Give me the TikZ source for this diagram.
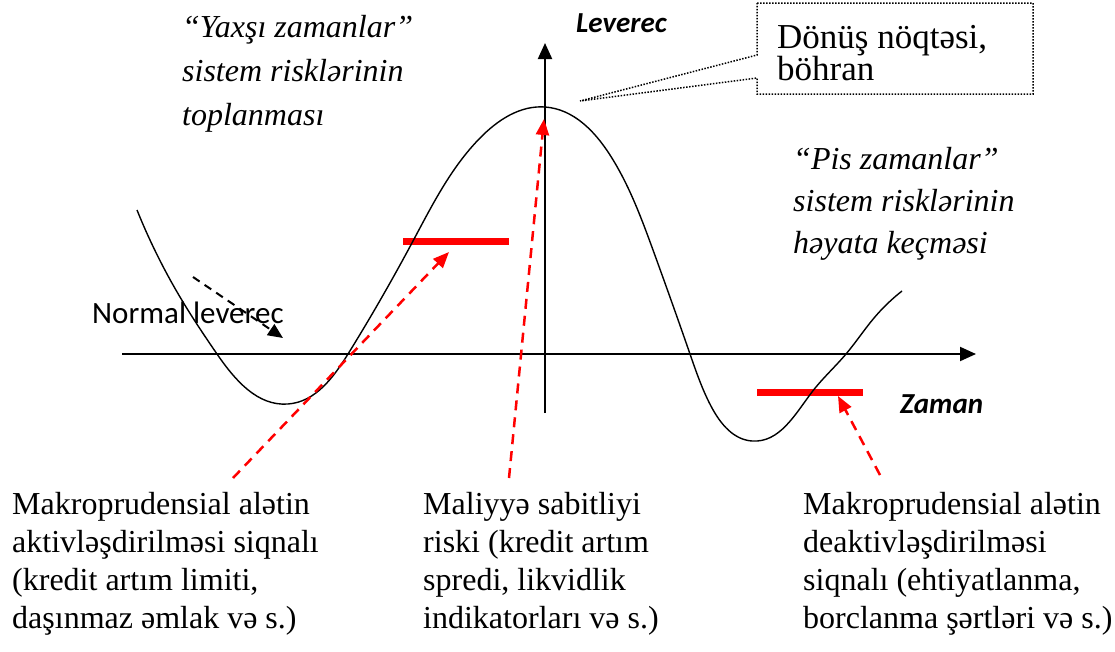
\documentclass[tikz,border=0pt]{standalone}
\usepackage{fontspec}
\setmainfont{Liberation Serif}
\newfontfamily\calibri{Carlito}
\usetikzlibrary{arrows.meta,hobby}
\tikzset{
  axisline/.style={line width=2pt,-{Triangle[length=16pt,width=14pt]}},
  curveline/.style={line width=1.4pt},
  redbar/.style={red,line width=7pt},
  redarrow/.style={red,line width=2.5pt,dash pattern=on 10pt off 7pt,-{Triangle[length=16pt,width=13pt]}},
  blackarrow/.style={black,line width=2pt,dash pattern=on 8pt off 6pt,-{Triangle[length=15pt,width=13pt]}},
  calloutline/.style={line width=1.5pt,dash pattern=on 1.5pt off 1.5pt},
  bodytext/.style={anchor=base west,align=left,inner sep=0pt,font=\fontsize{32}{38}\selectfont},
  italictext/.style={anchor=base west,align=left,inner sep=0pt,font=\fontsize{32}{44}\selectfont\itshape},
  sanslabel/.style={anchor=base west,inner sep=0pt,font=\calibri\bfseries\itshape\fontsize{29}{34}\selectfont},
}
\begin{document}
\begin{tikzpicture}[x=1pt,y=-1pt]
\useasboundingbox (0,0) rectangle (1115,651);
% axes
\coordinate (xo) at (122,354);
\coordinate (xe) at (976,354);
\coordinate (yo) at (545,413);
\coordinate (ye) at (545,43);
\draw[axisline] (xo) -- (xe);
\draw[axisline] (yo) -- (ye);
% red bars
\coordinate (b1l) at (403,241);
\coordinate (b1r) at (509,241);
\coordinate (b2l) at (757,392);
\coordinate (b2r) at (863,392);
\draw[redbar] (b1l) -- (b1r);
\draw[redbar] (b2l) -- (b2r);
% curve
\draw[curveline,use Hobby shortcut] (137,210) .. (180,297) .. (217,354) .. (288,404)
 .. (348,354) .. (413,241) .. (480,138) .. (545,107) .. (610,155) .. (653,250)
 .. (690,354) .. (712,408) .. (752,441) .. (812,392) .. (846,354) .. (874,318) .. (902,291);
% callout
\draw[calloutline] (757,3) -- (1033,3) -- (1033,94) -- (757,94) -- (757,78)
  -- (580,101) -- (757,55) -- cycle;
\node[anchor=base west,align=left,inner sep=0pt,font=\fontsize{35}{32}\selectfont]
  (turn) at (777,80) {Dönüş nöqtəsi,\\böhran};
% labels
\node[sanslabel] (lev) at (576,32) {Leverec};
\node[sanslabel] (zam) at (900,413) {Zaman};
\node[anchor=base west,inner sep=0pt,font=\calibri\fontsize{31}{36}\selectfont]
  (normal) at (92,323) {Normal leverec};
\node[italictext] (good) at (182,125) {“Yaxşı zamanlar”\\sistem risklərinin\\toplanması};
\node[italictext,font=\fontsize{32}{42}\selectfont\itshape] (bad) at (793,253)
  {“Pis zamanlar”\\sistem risklərinin\\həyata keçməsi};
% bottom texts
\node[bodytext] (act) at (12,628) {Makroprudensial alətin\\aktivləşdirilməsi siqnalı\\(kredit artım limiti,\\daşınmaz əmlak və s.)};
\node[bodytext] (fin) at (423,628) {Maliyyə sabitliyi\\riski (kredit artım\\spredi, likvidlik\\indikatorları və s.)};
\node[bodytext] (deact) at (803,628) {Makroprudensial alətin\\deaktivləşdirilməsi\\siqnalı (ehtiyatlanma,\\borclanma şərtləri və s.)};
% arrows
\coordinate (a1s) at (233,478);
\coordinate (a1e) at (449,252);
\coordinate (a2s) at (509,478);
\coordinate (a2e) at (544,119);
\coordinate (a3s) at (880,475);
\coordinate (a3e) at (838,396);
\coordinate (n1s) at (193,277);
\coordinate (n1e) at (283,338);
\draw[blackarrow] (n1s) -- (n1e);
\draw[redarrow] (a1s) -- (a1e);
\draw[redarrow] (a2s) -- (a2e);
\draw[redarrow] (a3s) -- (a3e);
\end{tikzpicture}
\end{document}
